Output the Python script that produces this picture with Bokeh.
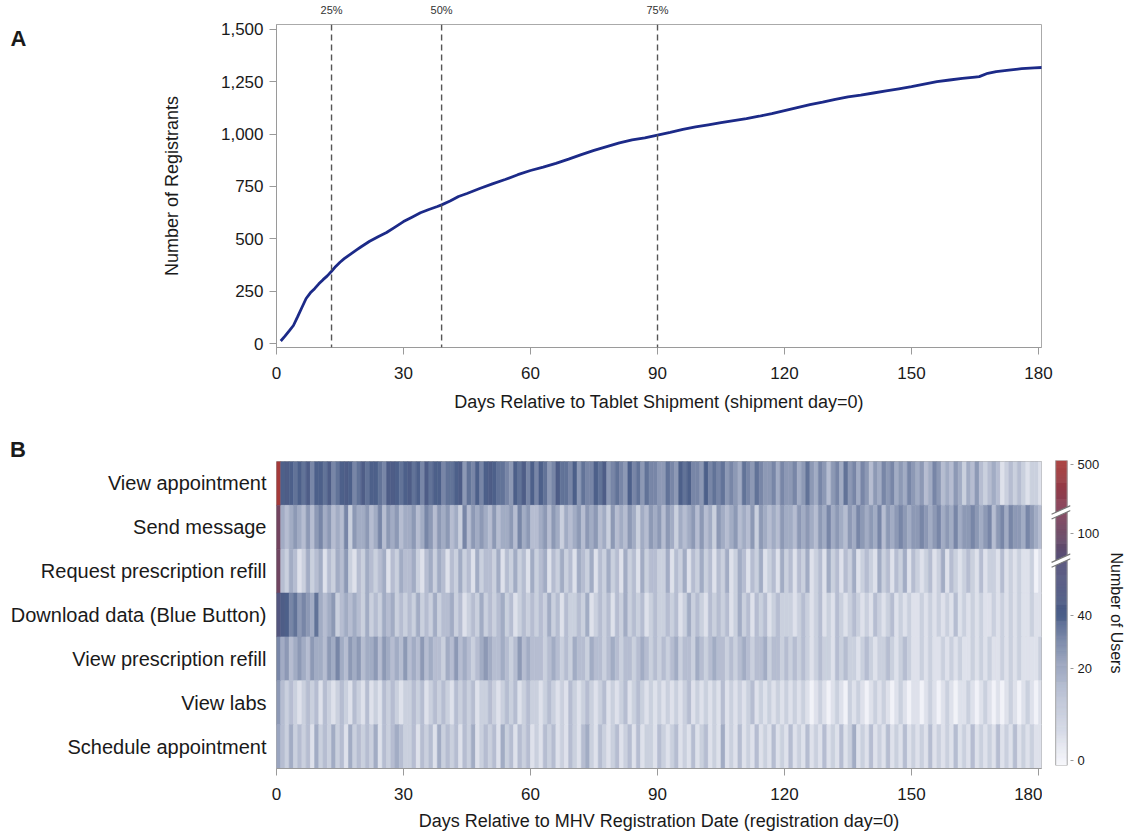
import numpy as np
from bokeh.plotting import figure
from bokeh.models import (Span, LinearAxis, FixedTicker, NumeralTickFormatter, Div,
                          ColumnDataSource, LinearColorMapper, FactorRange, Range1d)
from bokeh.core.properties import value
from bokeh.layouts import column, row
from bokeh.embed import file_html
from bokeh.resources import INLINE

FONT = "Liberation Sans"
TXT = "#1a1a1a"
AX = "#9a9a9a"

# ---------------- Panel A data ----------------
days_a = [1, 2, 3, 4, 5, 6, 7, 8, 9, 10, 11, 12, 13, 14, 15, 16, 17, 18, 19, 20,
          22, 24, 26, 28, 30, 32, 34, 36, 38, 39, 41, 43, 45, 48, 51, 54, 57, 60,
          63, 66, 69, 72, 75, 78, 81, 84, 87, 90, 93, 96, 99, 102, 105, 108, 111,
          114, 117, 120, 123, 126, 129, 132, 135, 138, 141, 144, 147, 150, 153,
          156, 159, 162, 165, 166, 168, 170, 173, 176, 179, 181]
registrants = [12, 35, 60, 86, 128, 172, 215, 242, 262, 285, 305, 323, 345, 368, 388,
               405, 420, 434, 448, 462, 488, 510, 530, 556, 582, 603, 624, 640, 654,
               662, 680, 702, 716, 740, 762, 783, 806, 826, 842, 860, 880, 902, 922,
               940, 958, 972, 982, 995, 1008, 1022, 1034, 1044, 1054, 1064, 1074, 1085,
               1098, 1112, 1126, 1140, 1152, 1166, 1178, 1186, 1196, 1206, 1216, 1226,
               1238, 1250, 1258, 1266, 1272, 1274, 1290, 1298, 1305, 1312, 1316, 1318]
quartile_days = [13, 39, 90]
quartile_labels = ["25%", "50%", "75%"]
x_ticks = [0, 30, 60, 90, 120, 150, 180]
y_ticks_a = [0, 250, 500, 750, 1000, 1250, 1500]

# ---------------- Panel B data ----------------
activities = ["View appointment", "Send message", "Request prescription refill",
              "Download data (Blue Button)", "View prescription refill", "View labs",
              "Schedule appointment"]
# users on registration day (day 0)
day0_users = [500, 120, 110, 60, 30, 25, 22]
# users per day, days 1..180, one digit per day (digit x 5 users)
view_appointment = ("898787968879678986797887699878" "978697886778957686898776587968"
                    "687569776857668795676586757665" "576587866586767565476576556465"
                    "564575465356475646535465645465" "453465343542435323431232321221")
send_message = ("434543535645343625445346354534" "453465354534263545435344536453"
                "345354243453545342534354243545" "354243453534254345343525434354"
                "435454354645435465454635456545" "565456454645565456356465546543")
request_refill = ("324312423413243521324323413243" "342134243132423142332413242314"
                  "234132423143241324231423142332" "241324132423132412431324123142"
                  "313241231423132412321423132413" "212312413212321312213121211201")
download_data = ("986756547434523434324232434232" "324232423342312324232342312323"
                 "232423132232412323132423231232" "232312423213232312423132312322"
                 "212321231213212321213212312121" "121212121312121211212121211211")
view_refill = ("453454354435464354534453543435" "343534332435343234543343235343"
               "332343232433243323432332343232" "323423324323433232343233423323"
               "232321232213232212321223212321" "121211212121121212112121211112")
view_labs = ("323212323132123213213121323212" "232312323213232312232123231232"
             "212321213212321231212312321212" "121212312121213121212312121212"
             "121210121012102121012121012101" "101210121011210121010121012101")
schedule_appointment = ("324232314232423142323241323432" "231323142323132412323142313231"
                        "213231213213421321231231312213" "212312131231214121312131213121"
                        "312131213121312412131213121312" "121312121312131212131213121211")
row_codes = [view_appointment, send_message, request_refill, download_data,
             view_refill, view_labs, schedule_appointment]
users_per_digit = 5

cbar_tick_values = [0, 20, 40, 100, 500]
# colour scale (broken scale: value -> position along colour bar)
scale_values = [0, 20, 40, 70, 100, 150, 500]
scale_pos = [0.016, 0.318, 0.492, 0.672, 0.761, 0.83, 0.987]
break_pos = [0.672, 0.83]
color_pos = [0.0, 0.016, 0.318, 0.492, 0.672, 0.761, 0.83, 1.0]
color_hex = ["#f6f7fb", "#f1f2f8", "#a2acc4", "#4c5f89", "#56527a", "#6b4763", "#80405a", "#a83a38"]


def hex2rgb(h):
    h = h.lstrip("#")
    return [int(h[i:i + 2], 16) for i in (0, 2, 4)]


rgb = np.array([hex2rgb(c) for c in color_hex], dtype=float)
grid = np.linspace(0, 1, 256)
palette = []
for gv in grid:
    r = [int(round(np.interp(gv, color_pos, rgb[:, k]))) for k in range(3)]
    palette.append("#%02x%02x%02x" % tuple(r))
mapper = LinearColorMapper(palette=palette, low=0, high=1)


def letter_fig(letter, width, height, y_center_from_top):
    f = figure(width=width, height=height, x_range=Range1d(0, width), y_range=Range1d(0, height),
               x_axis_type=None, y_axis_type=None, output_backend="svg", toolbar_location=None,
               min_border=0, min_border_left=0, min_border_right=0, min_border_top=0,
               min_border_bottom=0)
    f.outline_line_color = None
    f.grid.visible = False
    f.text(x=[10], y=[height - y_center_from_top], text=[letter], text_font=value(FONT),
           text_font_size="22px", text_font_style="bold", text_color=TXT,
           text_baseline="middle", text_align="left")
    return f


# ---------------- Panel A ----------------
pA = figure(width=1088, height=428, x_range=Range1d(0, 180.7), y_range=Range1d(-19, 1523),
            output_backend="svg", toolbar_location=None,
            min_border_left=236, min_border_right=87, min_border_top=21, min_border_bottom=81)
pA.line(days_a, registrants, line_color="#1c2a88", line_width=2.8)
for d in quartile_days:
    pA.add_layout(Span(location=d, dimension="height", line_color="#555555",
                       line_dash="6 4", line_width=1.4))
pA.grid.visible = False
pA.outline_line_color = "#aaaaaa"

pA.xaxis.ticker = FixedTicker(ticks=x_ticks)
pA.yaxis.ticker = FixedTicker(ticks=y_ticks_a)
pA.yaxis.formatter = NumeralTickFormatter(format="0,0")
pA.xaxis.axis_label = "Days Relative to Tablet Shipment (shipment day=0)"
pA.yaxis.axis_label = "Number of Registrants"
for ax in (pA.xaxis[0], pA.yaxis[0]):
    ax.axis_line_color = AX
    ax.major_tick_line_color = AX
    ax.major_tick_out = 7
    ax.major_tick_in = 0
    ax.minor_tick_line_color = None
    ax.major_label_text_font = FONT
    ax.major_label_text_font_size = "17px"
    ax.major_label_text_color = TXT
    ax.axis_label_text_font = FONT
    ax.axis_label_text_font_size = "18px"
    ax.axis_label_text_font_style = "normal"
    ax.axis_label_text_color = TXT
pA.xaxis.major_label_standoff = 12
pA.xaxis.axis_label_standoff = 10
pA.yaxis.major_label_standoff = 6
pA.yaxis.axis_label_standoff = 36

top_axis = LinearAxis(ticker=FixedTicker(ticks=quartile_days),
                      major_label_overrides={d: l for d, l in zip(quartile_days, quartile_labels)})
top_axis.axis_line_color = None
top_axis.major_tick_line_color = None
top_axis.minor_tick_line_color = None
top_axis.major_label_text_font = FONT
top_axis.major_label_text_font_size = "11px"
top_axis.major_label_text_color = "#333333"
top_axis.major_label_standoff = 3
pA.add_layout(top_axis, "above")

# ---------------- Panel B ----------------
xs, ys, ps = [], [], []
for act, code, d0 in zip(activities, row_codes, day0_users):
    vals = [d0] + [int(c) * users_per_digit for c in code]
    for day, v in enumerate(vals):
        xs.append(day + 0.5)
        ys.append(act)
        ps.append(float(np.interp(v, scale_values, scale_pos)))
src = ColumnDataSource(dict(x=xs, y=ys, pos=ps))

pB = figure(width=1042, height=376, x_range=Range1d(0, 180.7),
            y_range=FactorRange(factors=list(reversed(activities))),
            output_backend="svg", toolbar_location=None,
            min_border_left=276, min_border_right=1, min_border_top=0, min_border_bottom=69)
pB.rect(x="x", y="y", width=1, height=1, source=src,
        fill_color={"field": "pos", "transform": mapper},
        line_color={"field": "pos", "transform": mapper}, line_width=0.6)
pB.grid.visible = False
pB.outline_line_color = "#aaaaaa"
pB.xaxis.ticker = FixedTicker(ticks=x_ticks)
pB.xaxis.axis_label = "Days Relative to MHV Registration Date (registration day=0)"
xb = pB.xaxis[0]
xb.axis_line_color = AX
xb.major_tick_line_color = AX
xb.major_tick_out = 7
xb.major_tick_in = 0
xb.minor_tick_line_color = None
xb.major_label_text_font = FONT
xb.major_label_text_font_size = "17px"
xb.major_label_text_color = TXT
xb.major_label_standoff = 12
xb.axis_label_text_font = FONT
xb.axis_label_text_font_size = "18px"
xb.axis_label_text_font_style = "normal"
xb.axis_label_text_color = TXT
xb.axis_label_standoff = 8
yb = pB.yaxis[0]
yb.axis_line_color = None
yb.major_tick_line_color = None
yb.minor_tick_line_color = None
yb.major_label_text_font = FONT
yb.major_label_text_font_size = "20px"
yb.major_label_text_color = TXT
yb.major_label_standoff = 4

# ---------------- Colour bar ----------------
pC = figure(width=86, height=409, x_range=Range1d(0, 34), y_range=Range1d(0, 1),
            x_axis_type=None, y_axis_location="right",
            output_backend="svg", toolbar_location=None,
            min_border_left=0, min_border_right=52, min_border_top=32, min_border_bottom=72)
n = 300
bots = [i / n for i in range(n)]
tops = [(i + 1) / n for i in range(n)]
mids = [(i + 0.5) / n for i in range(n)]
cb_src = ColumnDataSource(dict(bottom=bots, top=tops, pos=mids))
pC.quad(left=16, right=30, bottom="bottom", top="top", source=cb_src,
        fill_color={"field": "pos", "transform": mapper},
        line_color={"field": "pos", "transform": mapper}, line_width=0.5)
pC.quad(left=[16], right=[30], bottom=[0], top=[1], fill_color=None, line_color="#aaaaaa")
gap = 0.016
sl = 0.014
for b in break_pos:
    pC.patch([11, 34, 34, 11], [b - gap / 2 - sl, b - gap / 2 + sl, b + gap / 2 + sl, b + gap / 2 - sl],
             fill_color="white", line_color=None)
    pC.segment(x0=[11, 11], y0=[b - gap / 2 - sl, b + gap / 2 - sl], x1=[34, 34],
               y1=[b - gap / 2 + sl, b + gap / 2 + sl], line_color="#777777", line_width=1.2)
pC.grid.visible = False
pC.outline_line_color = None
tick_pos = [float(v) for v in np.interp(cbar_tick_values, scale_values, scale_pos)]
yc = pC.yaxis[0]
yc.ticker = FixedTicker(ticks=tick_pos)
yc.major_label_overrides = {p: str(v) for p, v in zip(tick_pos, cbar_tick_values)}
yc.axis_line_color = None
yc.major_tick_line_color = AX
yc.major_tick_out = 3
yc.major_tick_in = 0
yc.minor_tick_line_color = None
yc.major_label_text_font = FONT
yc.major_label_text_font_size = "13px"
yc.major_label_text_color = TXT
yc.major_label_standoff = 4
yc.axis_label = "Number of Users"
yc.axis_label_text_font = FONT
yc.axis_label_text_font_size = "16px"
yc.axis_label_text_font_style = "normal"
yc.axis_label_text_color = TXT
yc.axis_label_standoff = 6

pLA = letter_fig("A", 40, 428, 18)
divB = Div(text=("<div style=\"padding:9px 0 0 10px; font-family:'Liberation Sans'; "
                 "font-size:22px; font-weight:bold; color:#1a1a1a; line-height:25px;\">B</div>"),
           width=1042, height=33, margin=0)

layout = column(row(pLA, pA), row(column(divB, pB), pC))
open("out.html", "w").write(file_html(layout, INLINE, title="Registrants and MHV use"))
